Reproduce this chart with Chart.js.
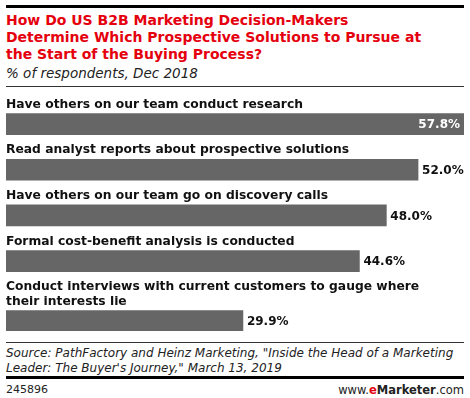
<!DOCTYPE html>
<html>
<head>
<meta charset="utf-8">
<script src="https://cdn.jsdelivr.net/npm/chart.js@4/dist/chart.umd.min.js"></script>
<style>
  html, body { margin: 0; padding: 0; background: #fff; }
  body { width: 470px; height: 398px; position: relative; overflow: hidden; font-family: "DejaVu Sans", Verdana, sans-serif; }
  .rule { position: absolute; left: 6px; width: 458px; background: #000; }
  .txt { position: absolute; left: 6px; white-space: nowrap; }
  #title { top: 12px; font-size: 14px; line-height: 17px; font-weight: bold; color: #e5000e; }
  #subtitle { top: 65px; font-size: 13.5px; line-height: 17px; font-style: italic; color: #222; }
  #chart-wrap { position: absolute; left: 0; top: 96px; width: 470px; height: 235px; }
  #source { top: 346px; font-size: 12px; line-height: 15px; font-style: italic; color: #222; }
  #chart-id { top: 383px; font-size: 11px; line-height: 14px; color: #222; }
  #brand { position: absolute; right: 6px; top: 383px; font-size: 11.5px; line-height: 14px; color: #222; }
  #brand b { color: #222; }
  #brand .e { color: #e5000e; font-weight: bold; }
</style>
</head>
<body>
<div class="rule" style="top:5px;height:3px"></div>
<div class="txt" id="title">How Do US B2B Marketing Decision-Makers<br>Determine Which Prospective Solutions to Pursue at<br>the Start of the Buying Process?</div>
<div class="txt" id="subtitle">% of respondents, Dec 2018</div>
<div class="rule" style="top:86px;height:1px;background:#333"></div>
<div id="chart-wrap"><canvas id="chart"></canvas></div>
<div class="rule" style="top:342px;height:1px;background:#333"></div>
<div class="txt" id="source">Source: PathFactory and Heinz Marketing, "Inside the Head of a Marketing<br>Leader: The Buyer's Journey," March 13, 2019</div>
<div class="rule" style="top:376px;height:3px"></div>
<div class="txt" id="chart-id">245896</div>
<div id="brand">www.<span class="e">e</span><b>Marketer</b>.com</div>

<script>
// ============ DATA ============
const CATEGORIES = [
  ["Have others on our team conduct research"],
  ["Read analyst reports about prospective solutions"],
  ["Have others on our team go on discovery calls"],
  ["Formal cost-benefit analysis is conducted"],
  ["Conduct interviews with current customers to gauge where", "their interests lie"]
];
const VALUES = [57.8, 52.0, 48.0, 44.6, 29.9];
const VALUE_LABELS = ["57.8%", "52.0%", "48.0%", "44.6%", "29.9%"];

// ============ LAYOUT ============
const LINE_H = 15;     // height of one label line
const BAR_H = 21;      // bar thickness
const BAR_GAP = 4;     // space between label and bar
const BLOCK_GAP = 8;   // space after a bar

// vertical slot of each bar, from the number of label lines above it
function buildRows() {
  let offset = 0;
  return CATEGORIES.map((lines, i) => {
    const center = offset + lines.length * LINE_H + BAR_GAP + BAR_H / 2;
    offset += lines.length * LINE_H + BAR_GAP + BAR_H + BLOCK_GAP;
    return { x: VALUES[i], y: center };
  });
}
const rows = buildRows();
const totalHeight = CATEGORIES.reduce((s, l) => s + l.length * LINE_H + BAR_GAP + BAR_H + BLOCK_GAP, 0) - BLOCK_GAP;

const labelPlugin = {
  id: "labels",
  afterDatasetsDraw(chart) {
    const ctx = chart.ctx;
    const meta = chart.getDatasetMeta(0);
    ctx.save();
    meta.data.forEach((bar, i) => {
      const top = bar.y - BAR_H / 2;
      const lines = CATEGORIES[i];
      ctx.font = "bold 12.3px 'DejaVu Sans'";
      ctx.fillStyle = "#111";
      ctx.textAlign = "left";
      ctx.textBaseline = "alphabetic";
      lines.forEach((t, k) => {
        ctx.fillText(t, chart.chartArea.left, top - 6 - (lines.length - 1 - k) * LINE_H);
      });
      ctx.font = "bold 12px 'DejaVu Sans'";
      ctx.textBaseline = "middle";
      if (i === 0) {
        ctx.fillStyle = "#fff";
        ctx.textAlign = "right";
        ctx.fillText(VALUE_LABELS[i], bar.x - 4, bar.y + 1);
      } else {
        ctx.fillStyle = "#111";
        ctx.textAlign = "left";
        ctx.fillText(VALUE_LABELS[i], bar.x + 4, bar.y + 1);
      }
    });
    ctx.restore();
  }
};

new Chart(document.getElementById("chart"), {
  type: "bar",
  plugins: [labelPlugin],
  data: {
    datasets: [{
      data: rows,
      backgroundColor: "#666666",
      borderWidth: 0,
      barThickness: BAR_H
    }]
  },
  options: {
    indexAxis: "y",
    responsive: true,
    maintainAspectRatio: false,
    animation: false,
    layout: { padding: { left: 6, right: 6, top: 0, bottom: 0 } },
    scales: {
      x: { type: "linear", min: 0, max: Math.max(...VALUES), offset: false, display: false },
      y: { type: "linear", min: 0, max: totalHeight, reverse: true, offset: false, display: false }
    },
    plugins: { legend: { display: false }, tooltip: { enabled: false } }
  }
});
</script>
</body>
</html>
